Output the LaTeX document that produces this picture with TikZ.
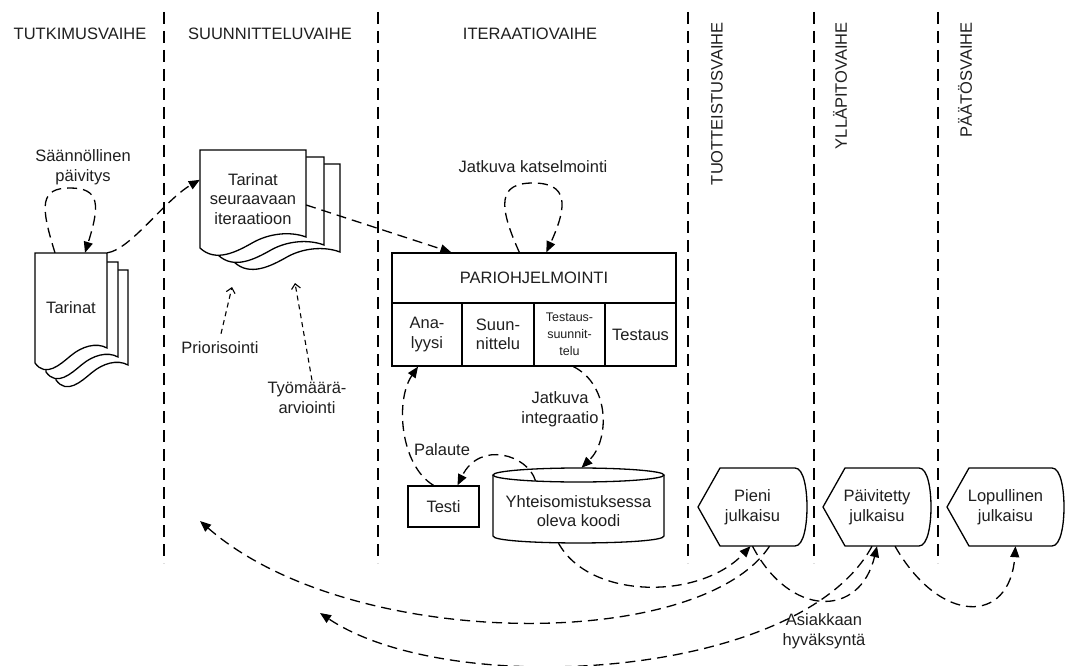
\documentclass[tikz,border=0pt]{standalone}
\usepackage{fontspec}
\setmainfont{Liberation Sans}
\usetikzlibrary{arrows.meta,calc}

% one sheet of a document stack: left x, top y, right x, bottom-left y, bottom-right y
\newcommand{\docsheet}[5]{%
  \path[shape line, fill=white] (#1,#2) -- (#3,#2) -- (#3,#5)
    .. controls ({#3-0.15*(#3-#1)},{#5-6}) and ({#1+0.65*(#3-#1)},{(#4+#5)/2-9}) .. ({#1+0.5*(#3-#1)},{(#4+#5)/2})
    .. controls ({#1+0.35*(#3-#1)},{(#4+#5)/2+9}) and ({#1+0.15*(#3-#1)},{#4+15}) .. (#1,#4) -- cycle;}

% release shape: pointed left side, rounded right side; left x, right x, centre y
\newcommand{\releaseshape}[3]{%
  \path[shape line, fill=white] (#1,#3) -- ({#1+22},{#3-39}) -- ({#2-12},{#3-39})
    .. controls ({#2-3},{#3-39}) and (#2,{#3-17}) .. (#2,#3)
    .. controls (#2,{#3+17}) and ({#2-3},{#3+39}) .. ({#2-12},{#3+39})
    -- ({#1+22},{#3+39}) -- cycle;}

\begin{document}
\begin{tikzpicture}[x=1pt,y=-1pt,
  every node/.style={font=\fontsize{16.5}{19.5}\selectfont, text=black!88, inner sep=0pt, align=center},
  shape line/.style={draw=black, line width=1.3pt},
  conn/.style={draw=black, line width=1.3pt, dash pattern=on 10pt off 6pt, -{Triangle[length=11pt,width=9pt]}},
  note conn/.style={draw=black, line width=1.1pt, dash pattern=on 5pt off 4pt, -{Straight Barb[length=5pt,width=9pt]}},
  phase line/.style={draw=black, line width=1.3pt, dash pattern=on 12pt off 7pt},
  cell/.style={shape line, minimum height=63pt},
  small/.style={font=\fontsize{12.5}{17}\selectfont},
]
\useasboundingbox (0,0) rectangle (1066,666);
\fill[white] (0,0) rectangle (1066,666);

% phase separators
\foreach \px in {164,378,688,814,938}
  \draw[phase line] (\px,12) -- (\px,563);

% phase headers
\node (h1) at (80,34) {TUTKIMUSVAIHE};
\node (h2) at (270,34) {SUUNNITTELUVAIHE};
\node (h3) at (530,34) {ITERAATIOVAIHE};
\node[rotate=90, anchor=east] (h4) at (717,22) {TUOTTEISTUSVAIHE};
\node[rotate=90, anchor=east] (h5) at (840,22) {YLLÄPITOVAIHE};
\node[rotate=90, anchor=east] (h6) at (965,22) {PÄÄTÖSVAIHE};

% story stack
\docsheet{56}{270}{128}{380}{365}
\docsheet{46}{262}{118}{372}{357}
\docsheet{35}{253}{107}{363}{348}
\node[minimum width=72pt, minimum height=110pt] (tar) at (71,308) {Tarinat};

% stories for the next iteration
\docsheet{234}{164}{340}{262}{252}
\docsheet{218}{157}{324}{255}{245}
\docsheet{200}{150}{306}{248}{237}
\node[minimum width=106pt, minimum height=98pt] (tsi) at (253,199) {Tarinat\\seuraavaan\\iteraatioon};

% pair programming block
\node[shape line, minimum width=284pt, minimum height=50pt] (pari) at (534,278) {PARIOHJELMOINTI};
\node[cell, minimum width=70pt] (ana) at (427,334.5) {Ana-\\lyysi};
\node[cell, minimum width=72pt] (suu) at (498,334.5) {Suun-\\nittelu};
\node[cell, minimum width=71pt, small] (tsu) at (569.5,334.5) {Testaus-\\suunnit-\\telu};
\node[cell, minimum width=71pt] (tes) at (640.5,334.5) {Testaus};

% test and shared code
\node[shape line, minimum width=71pt, minimum height=41pt] (testi) at (443.5,506.5) {Testi};
\path[shape line, fill=white] (493,475) -- (493,536) .. controls (493,545.3) and (664,545.3) .. (664,536) -- (664,475);
\draw[shape line] (578.5,475) ellipse [x radius=85.5, y radius=7];
\node[minimum width=171pt, minimum height=75pt] (cyl) at (578.5,505.5) {};
\node (cyltxt) at (578.5,511) {Yhteisomistuksessa\\oleva koodi};

% releases
\releaseshape{698}{807}{507}
\releaseshape{823}{931}{507}
\releaseshape{947}{1064}{507}
\node[minimum width=109pt, minimum height=78pt] (pj) at (752.5,507) {Pieni\\julkaisu};
\node[minimum width=108pt, minimum height=78pt] (pv) at (877,507) {Päivitetty\\julkaisu};
\node[minimum width=117pt, minimum height=78pt] (lj) at (1005.5,507) {Lopullinen\\julkaisu};

% labels
\node (lsaan) at (83,167) {Säännöllinen\\päivitys};
\node (lkats) at (533,167) {Jatkuva katselmointi};
\node (lprio) at (220,348) {Priorisointi};
\node (ltyo) at (307,398) {Työmäärä-\\arviointi};
\node (lint) at (560,409) {Jatkuva\\integraatio};
\node (lpal) at (442,450) {Palaute};
\node (lasi) at (824,631) {Asiakkaan\\hyväksyntä};

\coordinate (prioTip) at (232,287);
\coordinate (tyoTip) at (295,283);
\coordinate (backA) at (200,521);
\coordinate (backB) at (320,613);

% connectors
\draw[conn] ($(tar.north)+(-16,0)$) .. controls (40,205) and (40,188) .. (70,188)
  .. controls (100,188) and (100,205) .. ($(tar.north)+(14,0)$);
\draw[conn] (tar.north east) .. controls (130,250) and (165,200) .. ($(tsi.north west)+(0,30)$);
\draw[conn] ($(tsi.east)+(0,6)$) -- ($(pari.north west)+(60,0)$);
\draw[note conn] ($(lprio.north)+(1,-8)$) -- (prioTip);
\draw[note conn] ($(ltyo.north)+(5,-2)$) -- (tyoTip);
\draw[conn] ($(pari.north west)+(128,0)$) .. controls (498,205) and (498,183) .. (533,183)
  .. controls (568,183) and (568,205) .. ($(pari.north west)+(155,0)$);
\draw[conn] ($(tsu.south)+(4,0)$) .. controls (610,385) and (610,440) .. ($(cyl.north)+(3,0)$);
\draw[conn] ($(testi.north)+(-10,0)$) .. controls (400,465) and (395,400) .. ($(ana.south)+(-9,0)$);
\draw[conn] ($(cyl.north)+(-43,13)$) .. controls (528,455) and (480,440) .. ($(testi.north)+(14,0)$);
\draw[conn] ($(cyl.south)+(-20,0)$) .. controls (590,600) and (700,600) .. ($(pj.south)+(-2,0)$);
\draw[conn] ($(pj.south)+(17,0)$) .. controls (700,652) and (350,652) .. (backA);
\draw[conn] ($(pv.south)+(-5,0)$) .. controls (800,680) and (450,700) .. (backB);
\draw[conn] (pj.south) .. controls (790,618) and (860,618) .. (pv.south);
\draw[conn] ($(pv.south)+(18,0)$) .. controls (940,625) and (1010,625) .. ($(lj.south)+(10,0)$);
\end{tikzpicture}
\end{document}
